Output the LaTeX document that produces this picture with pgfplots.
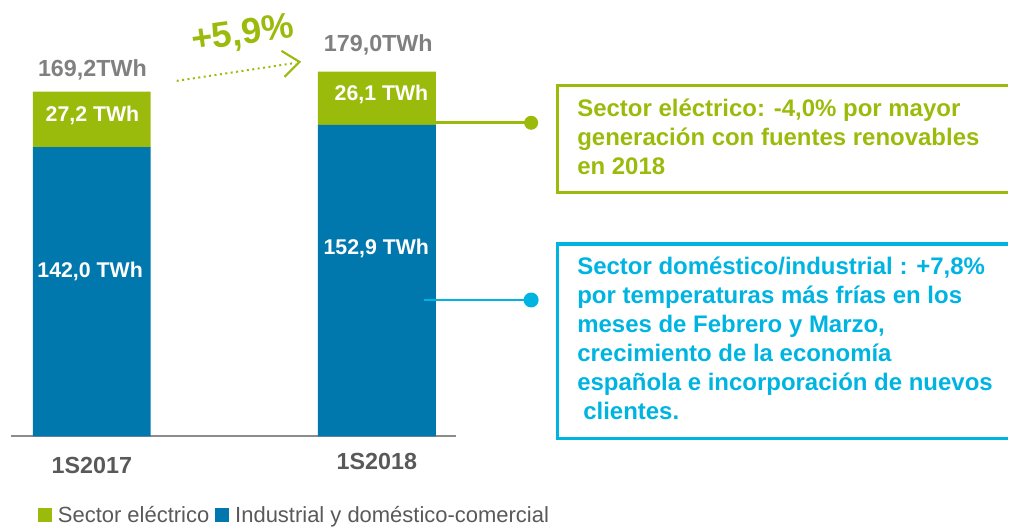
\documentclass[border=0pt]{standalone}
\usepackage{fontspec}
\setmainfont{Liberation Sans}
\usepackage{pgfplots}
\pgfplotsset{compat=1.18}

\definecolor{ngreen}{HTML}{9BBB0C}
\definecolor{nblue}{HTML}{0078AE}
\definecolor{ncyan}{HTML}{00B4E2}
\definecolor{tgray}{HTML}{808080}
\definecolor{dgray}{HTML}{595959}
\definecolor{agray}{HTML}{8C8C8C}

\tikzset{
  inlbl/.style={text=white, font=\bfseries\fontsize{16}{19}\selectfont},
  totlbl/.style={text=tgray, font=\bfseries\fontsize{17.5}{20}\selectfont},
  boxtxt/.style={anchor=base west, inner sep=0pt, font=\bfseries\fontsize{18}{21.75}\selectfont},
}

\begin{document}
\begin{tikzpicture}
% px: image pixel coordinates, origin top left
\tikzset{px/.style={x=0.75pt,y=-0.75pt,shift={(-8.25pt,327.75pt)}}}
\begin{scope}[px]
  \path[use as bounding box] (0,0) rectangle (1010,528);
\end{scope}

\begin{axis}[
    scale only axis,
    width=334.5pt, height=327.75pt,
    xmin=-0.2837, xmax=1.2785,
    ymin=0, ymax=214.2,
    ybar stacked,
    bar width=88.5pt,
    axis y line=none,
    axis x line*=bottom,
    x axis line style={draw=agray, line width=1.6pt, -},
    xtick={0,1},
    xticklabels={\raisebox{-1.5pt}{1S2017},\raisebox{1.5pt}{1S2018}},
    major tick length=0pt,
    xticklabel style={anchor=base, yshift=-26.25pt, text=dgray,
                      font=\bfseries\fontsize{17.5}{20}\selectfont},
    clip=false,
    reverse legend,
    legend columns=-1,
    legend image code/.code={\fill[#1] (0pt,-5.25pt) rectangle (10.5pt,5.25pt);},
    legend style={at={(0.06,-0.181)}, anchor=west, draw=none, fill=none,
                  inner sep=0pt, font=\fontsize{16.5}{19}\selectfont,
                  text=dgray, nodes={inner sep=3pt},
                  /tikz/every odd column/.append style={column sep=1.5pt},
                  /tikz/every even column/.append style={column sep=1.5pt}},
  ]
  \addplot[fill=nblue, draw=none] coordinates {(0,142.0) (1,152.9)};
  \addlegendentry{Industrial y doméstico-comercial}
  \addplot[fill=ngreen, draw=none] coordinates {(0,27.2) (1,26.1)};
  \addlegendentry{Sector eléctrico}

  % anchors for the value labels
  \coordinate (g1) at (axis cs:0.002,157.4);
  \coordinate (g2) at (axis cs:1.016,167.6);
  \coordinate (b1) at (axis cs:-0.006,80.9);
  \coordinate (b2) at (axis cs:0.998,92.2);
  \node[totlbl] at (axis cs:0.002,179.9) {169,2TWh};
  \node[totlbl] at (axis cs:1.005,192.2) {179,0TWh};
\end{axis}

% labels inside the bars
\node[inlbl] at (g1) {27,2 TWh};
\node[inlbl] at (g2) {26,1 TWh};
\node[inlbl] at (b1) {142,0 TWh};
\node[inlbl] at (b2) {152,9 TWh};

\begin{scope}[px]
  % growth arrow
  \draw[ngreen, line width=1.5pt, dash pattern=on 1.5pt off 2.6pt] (177,81) -- (296,63);
  \draw[ngreen, line width=1.6pt] (282,51) -- (300,62) -- (285,77);
  \node[rotate=8, text=ngreen, font=\bfseries\fontsize{27}{30}\selectfont] at (243,35) {+5,9\%};

  % connector to green box
  \draw[ngreen, line width=2pt] (437,123) -- (532,123);
  \fill[ngreen] (532,123) circle (7);
  \draw[ngreen, line width=2.5pt] (1010,85.5) -- (558.7,85.5) -- (558.7,192.5) -- (1010,192.5);
  \node[boxtxt, text=ngreen] at (578,117) {Sector eléctrico: -4,0\% por mayor};
  \node[boxtxt, text=ngreen] at (578,146) {generación con fuentes renovables};
  \node[boxtxt, text=ngreen] at (578,175) {en 2018};

  % connector to cyan box
  \draw[ncyan, line width=2pt] (425,300.5) -- (532,300.5);
  \fill[ncyan] (532,300.5) circle (7.5);
  \draw[ncyan, line width=2.5pt] (1010,244.5) -- (558.7,244.5) -- (558.7,439) -- (1010,439);
  \node[boxtxt, text=ncyan] at (578,275) {Sector doméstico/industrial : +7,8\%};
  \node[boxtxt, text=ncyan] at (578,304) {por temperaturas más frías en los};
  \node[boxtxt, text=ncyan] at (578,333) {meses de Febrero y Marzo,};
  \node[boxtxt, text=ncyan] at (578,362) {crecimiento de la economía};
  \node[boxtxt, text=ncyan] at (578,391) {española e incorporación de nuevos};
  \node[boxtxt, text=ncyan] at (584,420) {clientes.};
\end{scope}
\end{tikzpicture}
\end{document}
